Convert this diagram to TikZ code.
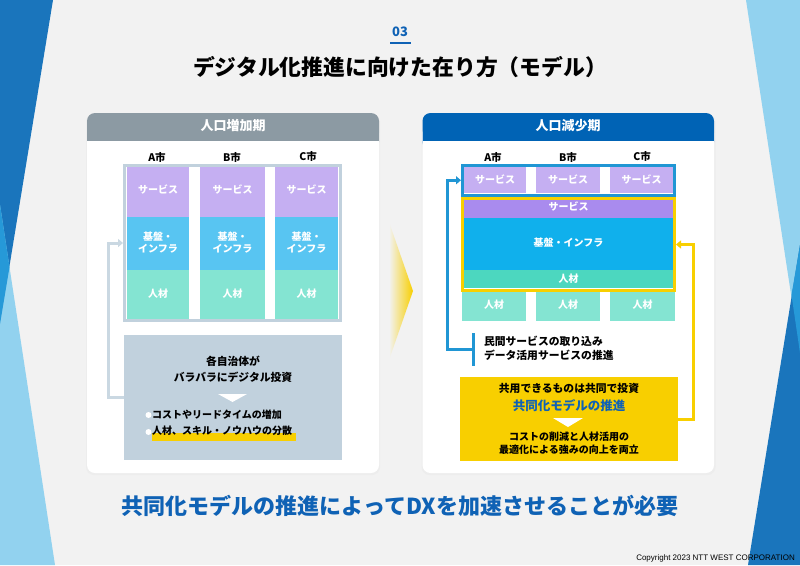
\documentclass[tikz,border=0pt]{standalone}
\usepackage{fontspec}
\setmainfont{Noto Sans CJK JP}
\newfontfamily\latinfont{Liberation Sans}
\usetikzlibrary{arrows.meta,shapes.geometric}
\definecolor{bgc}{HTML}{F2F2F2}
\definecolor{darkb}{HTML}{1A75BC}
\definecolor{lightb}{HTML}{92D2EF}
\definecolor{midb}{HTML}{2699D8}
\definecolor{titleb}{HTML}{0F62B5}
\definecolor{greyh}{HTML}{8C9AA3}
\definecolor{blueh}{HTML}{0063B5}
\definecolor{pur}{HTML}{C5AFF2}
\definecolor{purd}{HTML}{A98BEE}
\definecolor{sky}{HTML}{58C5F2}
\definecolor{skyd}{HTML}{10B0EC}
\definecolor{grn}{HTML}{84E4D2}
\definecolor{grnd}{HTML}{4CD7BF}
\definecolor{slate}{HTML}{C1D1DD}
\definecolor{frameb}{HTML}{2096D4}
\definecolor{yel}{HTML}{F8CF00}
\tikzset{
  x=1pt,y=-1pt,
  fs/.style={font=\fontsize{#1}{12.5}\selectfont\bfseries},
  box/.style={inner sep=0pt,outer sep=0pt,anchor=north west,text=white,align=center,fs=10},
  lbl/.style={inner sep=0pt,outer sep=0pt,align=center,text=black,fs=10},
  frame/.style={draw=#1,line width=3pt,inner sep=0pt,outer sep=0pt,anchor=north west},
  link/.style={draw=#1,line width=3pt,shorten >=1.5pt,-{Triangle[width=8pt,length=5pt]}},
  tri/.style={fill=white},
}
\newcommand{\cellnode}[7]{\node[box,fill=#2,minimum width=#5pt,minimum height=#6pt] (#1) at (#3,#4) {#7};}
% extra depth below a cell's text lifts it by half that depth
\newcommand{\up}[1]{\rule[-#1]{0pt}{#1}}
\begin{document}
\begin{tikzpicture}
\useasboundingbox (0,0) rectangle (800,565);
\fill[bgc] (0,0) rectangle (800,565);
% side wedges
\fill[darkb] (0,0) -- (53,0) -- (0,324) -- cycle;
\fill[lightb] (0,205) -- (55,565) -- (0,565) -- cycle;
\fill[midb] (0,205) -- (9.5,267) -- (0,324) -- cycle;
\fill[lightb] (746,0) -- (800,0) -- (800,353) -- cycle;
\fill[darkb] (800,245) -- (800,565) -- (748,565) -- cycle;
\fill[midb] (800,245) -- (791.5,295) -- (800,353) -- cycle;
% heading
\node[inner sep=0pt,text=titleb,fs=13] (num) at (400,31.5) {03};
\fill[titleb] (390,41.5) rectangle (411,43.5);
\node[inner sep=0pt,text=black,fs=21.8] (title) at (400,67) {デジタル化推進に向けた在り方（モデル）};
\node[inner sep=0pt,text=titleb,fs=22] (concl) at (400,505.5) {共同化モデルの推進によってDXを加速させることが必要};
\node[inner sep=0pt,anchor=east,text=black,font=\fontsize{8}{9}\latinfont] (copy) at (795,558) {Copyright 2023 NTT WEST CORPORATION};
% cards
\foreach \cx in {87,422.5}{
  \fill[black!7,rounded corners=8pt] (\cx-1,114) rectangle (\cx+293,475);
}
\fill[greyh,rounded corners=8pt] (87,113) rectangle (379,150);
\fill[blueh,rounded corners=8pt] (422.5,113) rectangle (714,150);
\fill[white,rounded corners=8pt] (87,125) rectangle (379,473);
\fill[white,rounded corners=8pt] (422.5,125) rectangle (714,473);
\fill[greyh] (87,121) rectangle (379,141);
\fill[blueh] (422.5,121) rectangle (714,141);
\node[inner sep=0pt,text=white,fs=13] (lhead) at (233,125.5) {人口増加期};
\node[inner sep=0pt,text=white,fs=13] (rhead) at (568,125.5) {人口減少期};
% left labels
\node[lbl,fs=10.5] (la) at (157,157) {A市};
\node[lbl,fs=10.5] (lb) at (232,157) {B市};
\node[lbl,fs=10.5] (lc) at (308,156) {C市};
% left frame
\node[frame=slate,fill=white,minimum width=215.5pt,minimum height=155pt] (lframe) at (124.5,165.5) {};
\cellnode{l1}{pur}{127}{167}{62}{50}{サービス\up{5pt}}
\cellnode{l2}{pur}{200}{167}{65}{50}{サービス\up{5pt}}
\cellnode{l3}{pur}{275}{167}{63}{50}{サービス\up{5pt}}
\cellnode{l4}{sky}{127}{217}{62}{53}{基盤・\\インフラ\up{3pt}}
\cellnode{l5}{sky}{200}{217}{65}{53}{基盤・\\インフラ\up{3pt}}
\cellnode{l6}{sky}{275}{217}{63}{53}{基盤・\\インフラ\up{3pt}}
\cellnode{l7}{grn}{127}{270}{62}{49}{人材\up{3pt}}
\cellnode{l8}{grn}{200}{270}{65}{49}{人材\up{3pt}}
\cellnode{l9}{grn}{275}{270}{63}{49}{人材\up{3pt}}
% left note
\node[box,fill=slate,minimum width=218pt,minimum height=125pt] (lnote) at (124,335) {};
\draw[link=slate!85!white] (lnote.west) -- ++(-16,0) |- (lframe.west);
\node[lbl,fs=10.8] (ln1) at (233,369) {各自治体が\\[3.5pt]バラバラにデジタル投資};
\fill[tri] (218,394) -- (247,394) -- (232.5,402) -- cycle;
\fill[yel] (152,433) rectangle (296,441);
\fill[white] (148.5,415) circle[radius=3];
\fill[white] (148.5,432) circle[radius=3];
\node[lbl,anchor=west] (ln2) at (152,415) {コストやリードタイムの増加};
\node[lbl,anchor=west] (ln3) at (152,431) {人材、スキル・ノウハウの分散};
% centre arrow
\shade[left color=bgc,right color=yel] (389,222) -- (413,291) -- (389,360) -- cycle;
% right labels
\node[lbl,fs=10.5] (ra) at (493,157) {A市};
\node[lbl,fs=10.5] (rb) at (568,157) {B市};
\node[lbl,fs=10.5] (rc) at (642,156) {C市};
% right stacks
\cellnode{r7}{grn}{462}{290}{64}{31}{人材\up{2pt}}
\cellnode{r8}{grn}{536}{290}{64}{31}{人材\up{2pt}}
\cellnode{r9}{grn}{610}{290}{65}{31}{人材\up{2pt}}
\cellnode{r1}{pur}{464}{167}{62}{26}{サービス\up{2pt}}
\cellnode{r2}{pur}{536}{167}{64}{26}{サービス\up{2pt}}
\cellnode{r3}{pur}{610}{167}{63}{26}{サービス\up{2pt}}
\node[frame=frameb,minimum width=212pt,minimum height=29.5pt] (rtop) at (462.5,165.5) {};
\cellnode{rs}{purd}{463}{199}{211}{19}{サービス\up{4pt}}
\cellnode{ri}{skyd}{463}{218}{211}{52}{基盤・インフラ\up{3pt}}
\cellnode{rh}{grnd}{463}{270}{211}{18}{人材}
\node[frame=yel,minimum width=212pt,minimum height=92pt] (rmid) at (462.5,198.5) {};
% right bar and text
\node[inner sep=0pt,outer sep=0pt,anchor=north west,fill=frameb,minimum width=3pt,minimum height=33pt] (bar) at (472,333) {};
\draw[link=frameb] (bar.west) -- ++(-25,0) |- (rtop.west);
\node[lbl,anchor=west,fs=10.8] (rn1) at (484,341) {民間サービスの取り込み};
\node[lbl,anchor=west,fs=10.8] (rn2) at (484,355) {データ活用サービスの推進};
% yellow note
\node[box,fill=yel,minimum width=218pt,minimum height=84pt] (ynote) at (460,377) {};
\draw[link=yel] (ynote.east) -- ++(15,0) |- (rmid.east);
\node[lbl,fs=10.8] (y1) at (569,388) {共用できるものは共同で投資};
\node[lbl,fs=12.5,text=titleb] (y2) at (569,406) {共同化モデルの推進};
\fill[tri] (553,418) -- (583,418) -- (568,427) -- cycle;
\node[lbl] (y3) at (569,437) {コストの削減と人材活用の};
\node[lbl] (y4) at (569,449.5) {最適化による強みの向上を両立};
\end{tikzpicture}
\end{document}
